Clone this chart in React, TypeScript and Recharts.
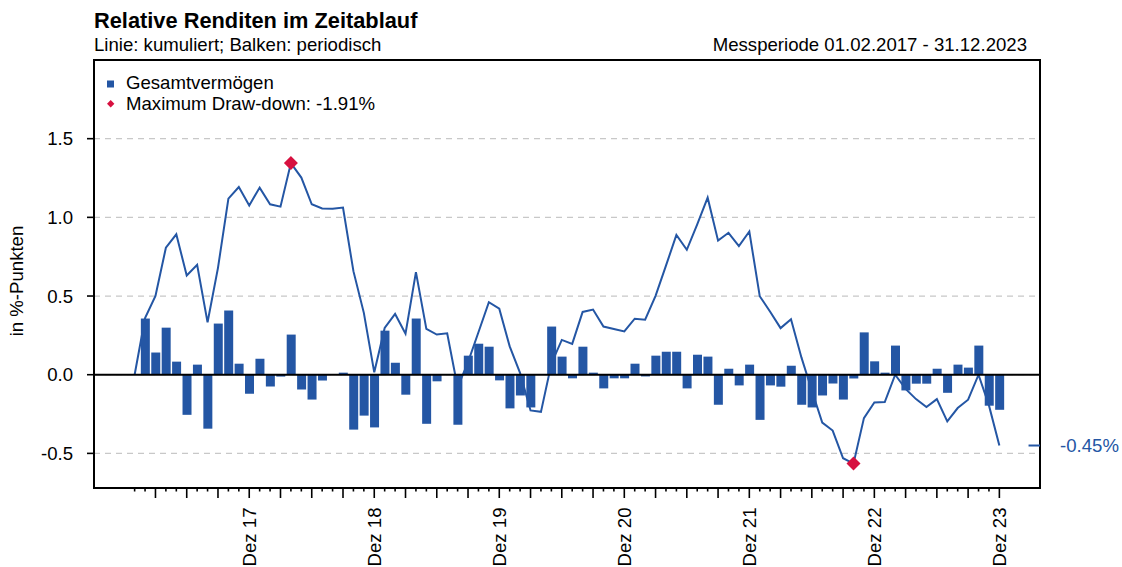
import React from 'react';
import {
  ComposedChart,
  Bar,
  Line,
  XAxis,
  YAxis,
  CartesianGrid,
  ReferenceLine,
  ReferenceArea,
  Legend,
} from 'recharts';

// Month index 0 = Jan 2017 (start of measurement), 1 = Feb 2017 ... 83 = Dec 2023
const monthNames = ['Jan', 'Feb', 'Mär', 'Apr', 'Mai', 'Jun', 'Jul', 'Aug', 'Sep', 'Okt', 'Nov', 'Dez'];
const years = ['17', '18', '19', '20', '21', '22', '23'];

// cumulative relative return (line), index 0..83
const cumulative = [
  0, 0.36, 0.5, 0.807, 0.892, 0.631, 0.699, 0.333, 0.679, 1.119,
  1.193, 1.076, 1.189, 1.083, 1.068, 1.345, 1.253, 1.083, 1.057, 1.055,
  1.062, 0.658, 0.393, 0.015, 0.297, 0.386, 0.261, 0.652, 0.291, 0.255,
  0.263, -0.08, 0.08, 0.27, 0.461, 0.42, 0.18, 0.01, -0.227, -0.236,
  0.07, 0.221, 0.196, 0.399, 0.414, 0.306, 0.29, 0.275, 0.356, 0.35,
  0.501, 0.693, 0.888, 0.794, 0.955, 1.125, 0.852, 0.902, 0.817, 0.91,
  0.499, 0.4, 0.296, 0.352, 0.11, -0.1, -0.304, -0.355, -0.531, -0.565,
  -0.276, -0.176, -0.174, 0.0, -0.09, -0.155, -0.205, -0.155, -0.297, -0.212,
  -0.159, 0.0, -0.195, -0.45,
];

// periodic relative return (bars), Feb 2017 .. Dec 2023
const periodic = [
  0.357, 0.141, 0.299, 0.083, -0.255, 0.064, -0.343, 0.325, 0.408, 0.07,
  -0.121, 0.102, -0.075, -0.012, 0.255, -0.094, -0.158, -0.037, 0, 0.013,
  -0.349, -0.26, -0.335, 0.28, 0.076, -0.127, 0.357, -0.312, -0.042, 0,
  -0.318, 0.121, 0.197, 0.178, -0.036, -0.214, -0.132, -0.208, 0, 0.306,
  0.115, -0.023, 0.178, 0.013, -0.087, -0.023, -0.023, 0.07, -0.011, 0.121,
  0.146, 0.146, -0.087, 0.127, 0.115, -0.191, 0.038, -0.068, 0.064, -0.287,
  -0.068, -0.076, 0.057, -0.191, -0.208, -0.132, -0.056, -0.158, -0.024, 0.269,
  0.085, 0.013, 0.185, -0.1, -0.057, -0.057, 0.038, -0.115, 0.064, 0.045,
  0.185, -0.197, -0.223,
];

// peak and trough of the maximum draw-down (month indices)
const drawdownIndices = [15, 69];
const drawdownLabel = 'Maximum Draw-down: -1.91%';

const yTicks = [-0.5, 0, 0.5, 1.0, 1.5];
const yDomain = [-0.72, 2.0];
const xDomain = [-3.9, 86.9];

const BLUE = '#2456A4';
const RED = '#D7103F';
const FONT = '"Liberation Sans", Arial, Helvetica, sans-serif';
const FS = 18.6;

const data = cumulative.map((v, i) => ({
  i,
  label: `${monthNames[i % 12]} ${years[Math.floor(i / 12)]}`,
  line: v,
  bar: i === 0 ? null : periodic[i - 1],
}));

const xTicks = data.map((d) => d.i);

const XTick = (props: any) => {
  const { x, y, payload } = props;
  const i = payload.value as number;
  const major = i % 3 === 2;
  const isDec = i % 12 === 11;
  const ty = y + 19.5;
  return (
    <g>
      <line x1={x} x2={x} y1={y} y2={y + (major ? 10 : 3.5)} stroke="#000" strokeWidth={1.6} />
      {isDec && (
        <text
          x={x}
          y={ty}
          transform={`rotate(-90, ${x}, ${ty})`}
          textAnchor="end"
          dominantBaseline="central"
          fontSize={FS}
          fontFamily={FONT}
          fill="#000"
        >
          {data[i].label}
        </text>
      )}
    </g>
  );
};

const renderDot = (props: any) => {
  const { cx, cy, index } = props;
  if (!drawdownIndices.includes(index)) return <g key={`d${index}`} />;
  const r = 7;
  return (
    <polygon
      key={`d${index}`}
      points={`${cx},${cy - r} ${cx + r},${cy} ${cx},${cy + r} ${cx - r},${cy}`}
      fill={RED}
    />
  );
};

const renderLegend = () => (
  <svg width={340} height={50} style={{ display: 'block' }}>
    <rect x={7} y={10.5} width={7} height={7} fill={BLUE} />
    <text x={26} y={19} fontSize={FS} fontFamily={FONT} fill="#000">
      Gesamtvermögen
    </text>
    <polygon points="10.7,30 14.4,33.7 10.7,37.4 7,33.7" fill={RED} />
    <text x={26} y={40} fontSize={FS} fontFamily={FONT} fill="#000">
      {drawdownLabel}
    </text>
  </svg>
);

const lastValue = cumulative[cumulative.length - 1];

export default function App() {
  return (
    <div style={{ position: 'absolute', left: 0, top: 0, width: 1122, height: 567, background: '#fff' }}>
      <ComposedChart
        width={1122}
        height={567}
        data={data}
        margin={{ top: 60, right: 82, left: 0, bottom: 0 }}
      >
        <CartesianGrid vertical={false} stroke="#c8c8c8" strokeDasharray="6 5" strokeWidth={1.3} />
        <XAxis
          dataKey="i"
          type="number"
          domain={xDomain}
          allowDataOverflow
          ticks={xTicks}
          interval={0}
          height={79}
          axisLine={false}
          tickLine={false}
          tickSize={0}
          tickMargin={0}
          tick={<XTick />}
        />
        <YAxis
          type="number"
          domain={yDomain}
          allowDataOverflow
          ticks={yTicks}
          width={94}
          axisLine={false}
          tickLine={{ stroke: '#000', strokeWidth: 1.6 }}
          tickSize={7}
          tickMargin={14}
          tickFormatter={(v: number) => v.toFixed(1)}
          tick={{ fontSize: FS, fill: '#000', fontFamily: FONT }}
        />
        <Legend
          layout="horizontal"
          verticalAlign="middle"
          align="center"
          wrapperStyle={{ left: 100, top: 70, width: 340, height: 50 }}
          content={renderLegend}
        />
        <Line
          type="linear"
          dataKey="line"
          stroke={BLUE}
          strokeWidth={2}
          dot={renderDot}
          activeDot={false}
          isAnimationActive={false}
          zIndex={250}
        />
        <Bar dataKey="bar" fill={BLUE} barSize={9} isAnimationActive={false} />
        <ReferenceLine y={0} stroke="#000" strokeWidth={2} />
        <ReferenceLine
          segment={[
            { x: 85.8, y: lastValue },
            { x: xDomain[1], y: lastValue },
          ]}
          stroke={BLUE}
          strokeWidth={2}
          ifOverflow="visible"
          label={{
            value: `${lastValue.toFixed(2)}%`,
            position: 'right',
            offset: 20,
            fill: BLUE,
            fontSize: FS,
            fontFamily: FONT,
          }}
        />
        <ReferenceArea
          x1={xDomain[0]}
          x2={xDomain[1]}
          y1={yDomain[0]}
          y2={yDomain[1]}
          fill="none"
          fillOpacity={0}
          stroke="#000"
          strokeWidth={2}
          ifOverflow="visible"
        />
      </ComposedChart>
      <svg
        width={1122}
        height={567}
        style={{ position: 'absolute', left: 0, top: 0, pointerEvents: 'none' }}
      >
        <text x={94} y={28} fontSize={21.8} fontWeight="bold" fontFamily={FONT} fill="#000">
          Relative Renditen im Zeitablauf
        </text>
        <text x={94} y={51} fontSize={FS} fontFamily={FONT} fill="#000">
          Linie: kumuliert; Balken: periodisch
        </text>
        <text x={1027} y={51} fontSize={FS} fontFamily={FONT} fill="#000" textAnchor="end">
          Messperiode 01.02.2017 - 31.12.2023
        </text>
        <text
          x={23}
          y={281}
          transform="rotate(-90, 23, 281)"
          fontSize={FS}
          fontFamily={FONT}
          fill="#000"
          textAnchor="middle"
        >
          in %-Punkten
        </text>
      </svg>
    </div>
  );
}
